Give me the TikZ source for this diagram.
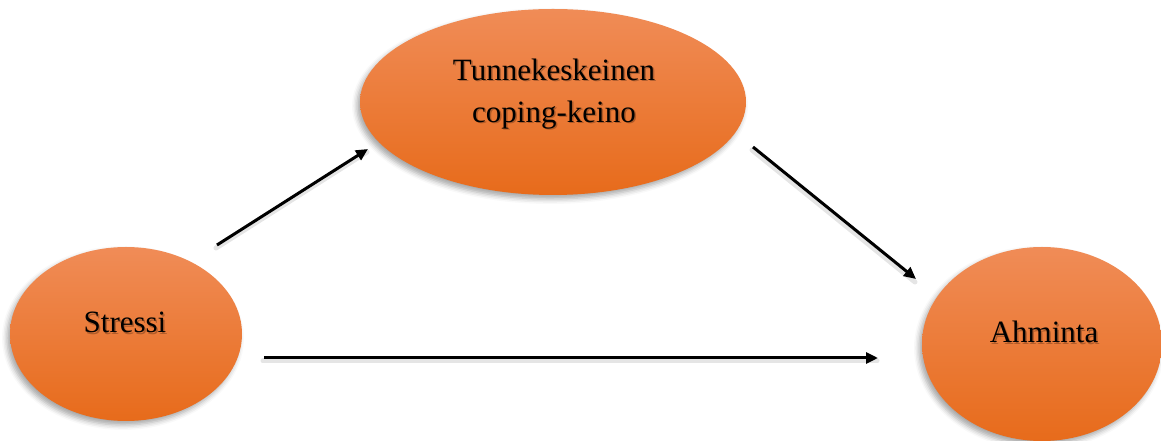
\documentclass[tikz,border=0pt]{standalone}
\usepackage{fontspec}
\setmainfont{Liberation Serif}
\usetikzlibrary{shapes.geometric,arrows.meta,shadows.blur}
\definecolor{blobtop}{HTML}{F08C57}
\definecolor{blobmid}{HTML}{F47E2C}
\definecolor{blobbot}{HTML}{E76B1B}
\tikzset{
  blob/.style={ellipse, inner sep=0pt, top color=blobtop, middle color=blobmid,
    bottom color=blobbot, draw=none,
    blur shadow={shadow xshift=-3pt, shadow yshift=-4pt, shadow blur radius=5pt,
      shadow opacity=35}},
  lbl/.style={font=\fontsize{31}{42}\selectfont, text=black, inner sep=0pt, align=center},
  lblshade/.style={lbl, text=black, opacity=0.25},
  link/.style={line width=3pt, -{Triangle[length=12pt,width=11pt]}},
  linkshade/.style={line width=5pt, black, opacity=0.10, line cap=round},
}
\begin{document}
\begin{tikzpicture}[x=1pt,y=1pt]
  \useasboundingbox (0,0) rectangle (1161,441);
  % the three variables
  \node[blob, minimum width=232pt, minimum height=174pt] (stressi) at (126,107) {};
  \node[blob, minimum width=386pt, minimum height=186pt] (tunne) at (553,339) {};
  \node[blob, minimum width=240pt, minimum height=194pt] (ahminta) at (1042,97) {};
  % soft shadows behind the labels
  \node[lblshade, anchor=base] (stressiS) at (126.5,106.5) {Stressi};
  \node[lblshade, anchor=center] (tunneS) at (555.5,345.5) {Tunnekeskeinen\\coping-keino};
  \node[lblshade, anchor=base] (ahmintaS) at (1045.5,96.5) {Ahminta};
  % labels
  \node[lbl, anchor=base] (stressiT) at (125,108) {Stressi};
  \node[lbl, anchor=center] (tunneT) at (554,347) {Tunnekeskeinen\\coping-keino};
  \node[lbl, anchor=base] (ahmintaT) at (1044,98) {Ahminta};
  % arrow end points
  \coordinate (a1s) at (217,196);
  \coordinate (a1e) at (368,292);
  \coordinate (a2s) at (753,294);
  \coordinate (a2e) at (916,162);
  \coordinate (a3s) at (264,83);
  \coordinate (a3e) at (878,83);
  % soft shadows under the arrows
  \draw[linkshade] ([shift={(-1,-3)}]a1s) -- ([shift={(-1,-3)}]a1e);
  \draw[linkshade] ([shift={(-1,-3)}]a2s) -- ([shift={(-1,-3)}]a2e);
  \draw[linkshade] ([shift={(-1,-3)}]a3s) -- ([shift={(-1,-3)}]a3e);
  % paths of influence
  \draw[link] (a1s) -- (a1e);
  \draw[link] (a2s) -- (a2e);
  \draw[link] (a3s) -- (a3e);
\end{tikzpicture}
\end{document}
